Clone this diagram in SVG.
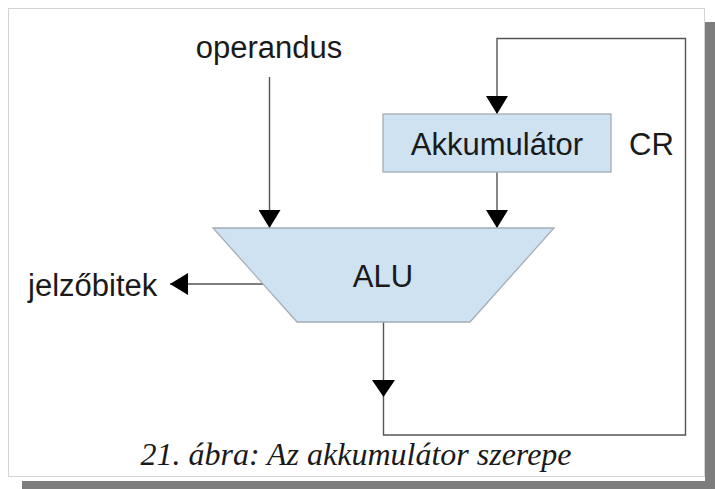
<svg xmlns="http://www.w3.org/2000/svg" width="715" height="489" viewBox="0 0 715 489">
  <style>
    .lbl { font-family: "Liberation Sans", Arial, sans-serif; font-size: 31px; fill: #1a1a1a; }
    .cap { font-family: "Liberation Serif", "Times New Roman", serif; font-style: italic; font-size: 32px; fill: #1a1a1a; }
    .shape { fill: #cfe2f2; stroke: #a3adb6; stroke-width: 1.3; }
    .wire { fill: none; stroke: #555; stroke-width: 1.4; }
    .head { fill: #000; }
  </style>
  <defs>
    <marker id="arr" viewBox="0 0 18 22" refX="18" refY="11" markerWidth="18" markerHeight="22" markerUnits="userSpaceOnUse" orient="auto">
      <path d="M0,0 L18,11 L0,22 Z" class="head"/>
    </marker>
  </defs>

  <!-- page, drop shadow and frame -->
  <rect x="0" y="0" width="715" height="489" fill="#fff"/>
  <rect x="705" y="22" width="10" height="467" fill="#7d7d7d"/>
  <rect x="22" y="481" width="693" height="8" fill="#7d7d7d"/>
  <rect x="8.5" y="8.5" width="696" height="468" fill="#fff" stroke="#d4d4d4" stroke-width="1"/>

  <!-- connectors -->
  <g id="connectors">
    <path class="wire" d="M269.5,77 V228" marker-end="url(#arr)"/>
    <path class="wire" d="M497,172 V228" marker-end="url(#arr)"/>
    <path class="wire" d="M383.5,322 V435 H685.5 V38.5 H497 V114" marker-end="url(#arr)"/>
    <path class="head" d="M372,380 L395,380 L383.5,397 Z"/>
    <path class="wire" d="M263,284 H170" marker-end="url(#arr)"/>
  </g>

  <g id="operandus">
    <text class="lbl" x="269" y="58" text-anchor="middle">operandus</text>
  </g>

  <g id="akkumulator">
    <rect class="shape" x="383" y="114" width="228" height="58"/>
    <text class="lbl" x="497" y="155" text-anchor="middle">Akkumulátor</text>
  </g>

  <g id="cr">
    <text class="lbl" x="629" y="155">CR</text>
  </g>

  <g id="alu">
    <polygon class="shape" points="213,228 554,228 470,322 297,322"/>
    <text class="lbl" x="383" y="287" text-anchor="middle">ALU</text>
  </g>

  <g id="jelzobitek">
    <text class="lbl" x="28" y="296">jelzőbitek</text>
  </g>

  <g id="caption">
    <text class="cap" x="356" y="465" text-anchor="middle">21. ábra: Az akkumulátor szerepe</text>
  </g>
</svg>
